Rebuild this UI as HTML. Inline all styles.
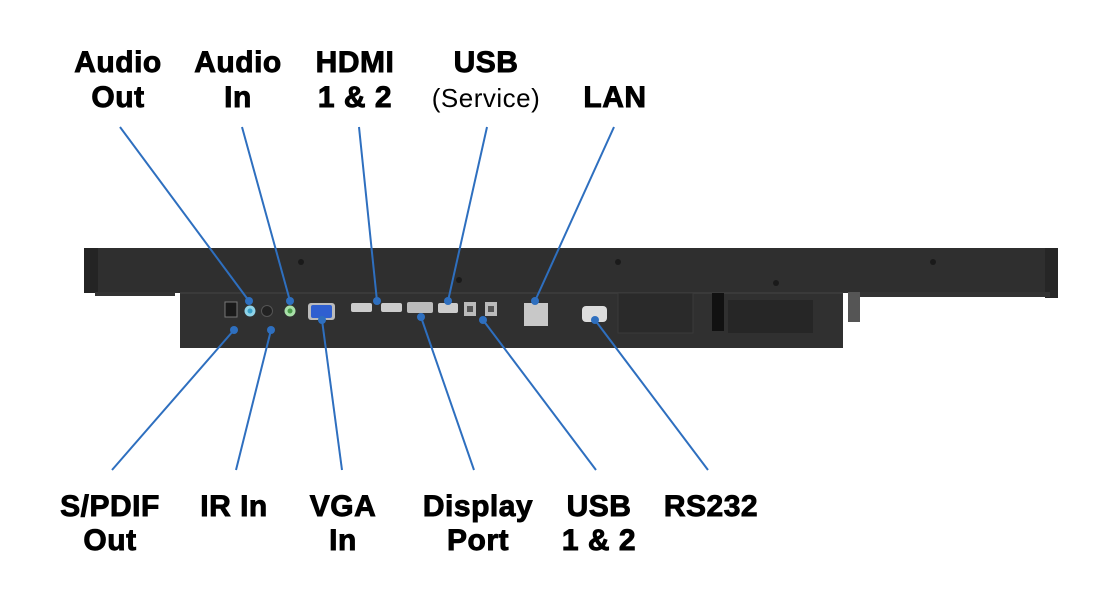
<!DOCTYPE html>
<html><head><style>
html,body{margin:0;padding:0;background:#fff;}
svg{display:block;}
text{font-family:"Liberation Sans",sans-serif;font-weight:bold;font-size:30px;fill:#000;stroke:#000;stroke-width:0.9;text-anchor:middle;letter-spacing:0.5px;}
.r{font-weight:normal;font-size:26px;stroke:none;letter-spacing:0.5px;}
</style></head><body>
<svg width="1096" height="593" viewBox="0 0 1096 593">
<rect width="1096" height="593" fill="#fff"/>
<!-- top bar -->
<rect x="84" y="248" width="974" height="45" rx="3" fill="#2f2f2f"/>
<rect x="84" y="248" width="14" height="45" fill="#242424"/>
<rect x="1045" y="248" width="13" height="50" fill="#262626"/>
<g fill="#1a1a1a">
<circle cx="301" cy="262" r="3"/><circle cx="459" cy="280" r="3"/><circle cx="618" cy="262" r="3"/>
<circle cx="776" cy="283" r="3"/><circle cx="933" cy="262" r="3"/>
</g>
<g fill="#333"><rect x="95" y="292" width="80" height="4"/><rect x="860" y="292" width="190" height="5"/></g>
<!-- lower panel -->
<rect x="180" y="292" width="663" height="56" fill="#303030"/>
<rect x="180" y="292" width="663" height="2" fill="#3a3a3a"/>
<rect x="618" y="293" width="75" height="40" fill="#2a2a2a" stroke="#3a3a3a"/>
<rect x="712" y="293" width="12" height="38" fill="#111"/>
<rect x="728" y="300" width="85" height="33" fill="#262626"/>
<rect x="848" y="292" width="12" height="30" fill="#555"/>
<!-- ports -->
<rect x="225" y="302" width="12" height="15" fill="#1a1a1a" stroke="#777"/>
<circle cx="250" cy="311" r="5.5" fill="#8fd3e8"/><circle cx="250" cy="311" r="2.5" fill="#3aa0c8"/>
<circle cx="267" cy="311" r="5.5" fill="#222" stroke="#555"/>
<circle cx="290" cy="311" r="5.5" fill="#a8e0a8"/><circle cx="290" cy="311" r="2.5" fill="#4a9a4a"/>
<rect x="308" y="303" width="27" height="17" rx="3" fill="#bbb"/>
<rect x="311" y="305" width="21" height="13" rx="2" fill="#2f5fd0"/>
<rect x="351" y="303" width="21" height="9" rx="2" fill="#ccc"/>
<rect x="381" y="303" width="21" height="9" rx="2" fill="#ccc"/>
<rect x="407" y="302" width="26" height="11" rx="2" fill="#bbb"/>
<rect x="438" y="303" width="20" height="10" rx="2" fill="#ccc"/>
<rect x="464" y="302" width="12" height="14" fill="#bbb"/><rect x="467" y="306" width="6" height="6" fill="#555"/>
<rect x="485" y="302" width="12" height="14" fill="#bbb"/><rect x="488" y="306" width="6" height="6" fill="#555"/>
<rect x="524" y="303" width="24" height="23" fill="#c8c8c8"/>
<rect x="582" y="306" width="25" height="16" rx="4" fill="#ddd"/>
<!-- connectors -->
<g stroke="#2e6fbf" stroke-width="2" fill="none">
<line x1="120" y1="127" x2="249" y2="301"/>
<line x1="242" y1="127" x2="290" y2="301"/>
<line x1="359" y1="127" x2="377" y2="301"/>
<line x1="487" y1="127" x2="448" y2="301"/>
<line x1="614" y1="127" x2="535" y2="301"/>
<line x1="112" y1="470" x2="234" y2="330"/>
<line x1="236" y1="470" x2="271" y2="330"/>
<line x1="342" y1="470" x2="322" y2="320"/>
<line x1="474" y1="470" x2="421" y2="317"/>
<line x1="596" y1="470" x2="483" y2="320"/>
<line x1="708" y1="470" x2="595" y2="320"/>
</g>
<g fill="#2e6fbf">
<circle cx="249" cy="301" r="4"/><circle cx="290" cy="301" r="4"/><circle cx="377" cy="301" r="4"/>
<circle cx="448" cy="301" r="4"/><circle cx="535" cy="301" r="4"/><circle cx="234" cy="330" r="4"/>
<circle cx="271" cy="330" r="4"/><circle cx="322" cy="320" r="4"/><circle cx="421" cy="317" r="4"/>
<circle cx="483" cy="320" r="4"/><circle cx="595" cy="320" r="4"/>
</g>
<!-- labels -->
<text x="118" y="72">Audio</text><text x="118" y="107">Out</text>
<text x="238" y="72">Audio</text><text x="238" y="107">In</text>
<text x="355" y="72">HDMI</text><text x="355" y="107">1 &amp; 2</text>
<text x="486" y="72">USB</text><text class="r" x="486" y="107">(Service)</text>
<text x="615" y="107">LAN</text>
<text x="110" y="516">S/PDIF</text><text x="110" y="550">Out</text>
<text x="234" y="516">IR In</text>
<text x="343" y="516">VGA</text><text x="343" y="550">In</text>
<text x="478" y="516">Display</text><text x="478" y="550">Port</text>
<text x="599" y="516">USB</text><text x="599" y="550">1 &amp; 2</text>
<text x="711" y="516">RS232</text>
</svg>
</body></html>
